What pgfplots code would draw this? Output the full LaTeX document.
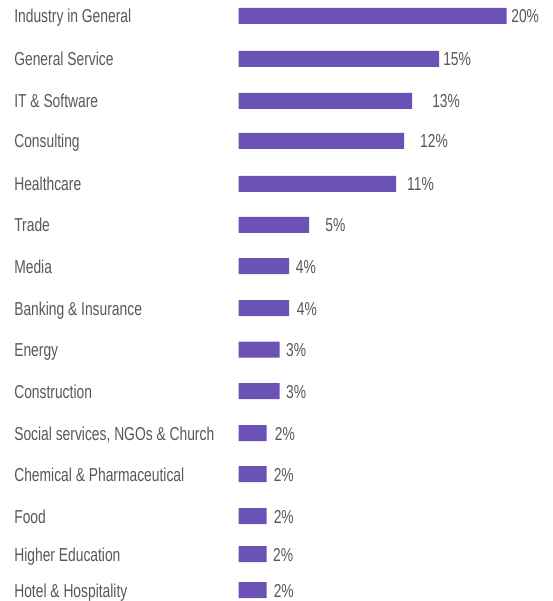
\documentclass[border=0pt]{standalone}
\usepackage{fontspec}
\setmainfont{Liberation Sans}[FakeStretch=0.74]
\usepackage{pgfplots}
\pgfplotsset{compat=1.18}
\definecolor{barc}{HTML}{6B52B5}
\definecolor{txt}{HTML}{585858}
\begin{document}
\begin{tikzpicture}
\begin{axis}[
  scale only axis, width=552pt, height=601pt,
  xmin=-17.799, xmax=23.396, ymin=0, ymax=601, y dir=reverse,
  axis line style={draw=none}, major tick length=0pt,
  xtick=\empty, clip=false,
  ytick={16,59,101,141,184,225,266,308,349.5,391,433,474,516,554,590},
  yticklabels={Industry in General, General Service, IT \& Software, Consulting, Healthcare, Trade, Media, Banking \& Insurance, Energy, Construction, {Social services, NGOs \& Church}, Chemical \& Pharmaceutical, Food, Higher Education, Hotel \& Hospitality},
  yticklabel style={anchor=base west, inner sep=0pt, xshift=14pt, yshift=-7pt, text=txt, font=\fontsize{18.7}{20}\selectfont},
]
\addplot[xbar, bar width=16pt, fill=barc, draw=none] coordinates {
 (20,16) (14.96,59) (12.95,101) (12.35,141) (11.75,184) (5.26,225) (3.77,266) (3.77,308) (3.06,349.5) (3.06,391) (2.09,433) (2.09,474) (2.09,516) (2.09,554) (2.09,590)};
\addplot[draw=none, mark=none, nodes near coords, point meta=explicit symbolic,
  every node near coord/.append style={anchor=base west, inner sep=0pt, yshift=-7pt, text=txt, font=\fontsize{18.7}{20}\selectfont}] coordinates {
 (20.34,16) [20\%]
 (15.26,59) [15\%]
 (14.44,101) [13\%]
 (13.54,141) [12\%]
 (12.57,184) [11\%]
 (6.46,225) [5\%]
 (4.26,266) [4\%]
 (4.34,308) [4\%]
 (3.54,349.5) [3\%]
 (3.54,391) [3\%]
 (2.69,433) [2\%]
 (2.61,474) [2\%]
 (2.61,516) [2\%]
 (2.56,554) [2\%]
 (2.61,590) [2\%]
};
\end{axis}
\end{tikzpicture}
\end{document}
